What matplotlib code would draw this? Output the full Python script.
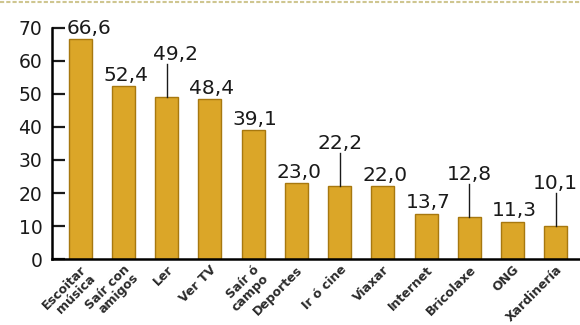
import matplotlib
matplotlib.use("Agg")
import matplotlib.pyplot as plt
import numpy as np

# Actividades de lecer (%)
categorias = ["Escoitar\nmúsica", "Saír con\namigos", "Ler", "Ver TV", "Saír ó\ncampo",
              "Deportes", "Ir ó cine", "Viaxar", "Internet", "Bricolaxe", "ONG", "Xardinería"]
valores = [66.6, 52.4, 49.2, 48.4, 39.1, 23.0, 22.2, 22.0, 13.7, 12.8, 11.3, 10.1]
# etiquetas que van levantadas cunha liña guía
con_guia = [False, False, True, False, False, False, True, False, False, True, False, True]
ticks_y = [0, 10, 20, 30, 40, 50, 60, 70]

plt.rcParams['font.family'] = ['DejaVu Sans']

fig = plt.figure(figsize=(5.8, 3.25), dpi=100)
ax = fig.add_axes([0.0897, 0.203, 0.9103, 0.711])

x = np.arange(len(valores))
ax.bar(x, valores, width=0.53, color="#DBA628", edgecolor="#A7780F", linewidth=1.0, zorder=2)

for i, (xi, v, guia) in enumerate(zip(x, valores, con_guia)):
    txt = f"{v:.1f}".replace(".", ",")
    if guia:
        ytxt = v + 9.8
        ax.plot([xi, xi], [v, ytxt], color="#1a1a1a", lw=1.0, zorder=3)
        dx = 0.2 if i == 2 else 0.0
        ax.text(xi + dx, ytxt, txt, ha="center", va="bottom", fontsize=14.5, color="#1a1a1a")
    else:
        dx = 0.2 if i == 0 else 0.05
        ax.text(xi + dx, v + 0.4, txt, ha="center", va="bottom", fontsize=14.5, color="#1a1a1a")

ax.set_xlim(-0.65, 11.56)
ax.set_ylim(0, 70)
ax.set_yticks(ticks_y)
ax.tick_params(axis="y", direction="in", length=9, width=1.6, labelsize=13.5,
               colors="#1a1a1a", pad=7)
ax.tick_params(axis="x", length=0, pad=3)
ax.set_xticks(x)
ax.set_xticklabels(categorias, rotation=45, ha="right", va="top",
                   rotation_mode="anchor", fontsize=9, linespacing=0.9)
for lbl in ax.get_xticklabels():
    lbl.set_fontweight("bold")
    lbl.set_color("#2a2a2a")

ax.spines["top"].set_visible(False)
ax.spines["right"].set_visible(False)
ax.spines["left"].set_linewidth(1.8)
ax.spines["bottom"].set_linewidth(1.8)

# liña punteada superior
fig.add_artist(plt.Line2D([0, 1], [0.994, 0.994], color="#CFC690", lw=1.5,
                          linestyle=(0, (2, 1)), transform=fig.transFigure))

fig.savefig("out.png", dpi=100)
